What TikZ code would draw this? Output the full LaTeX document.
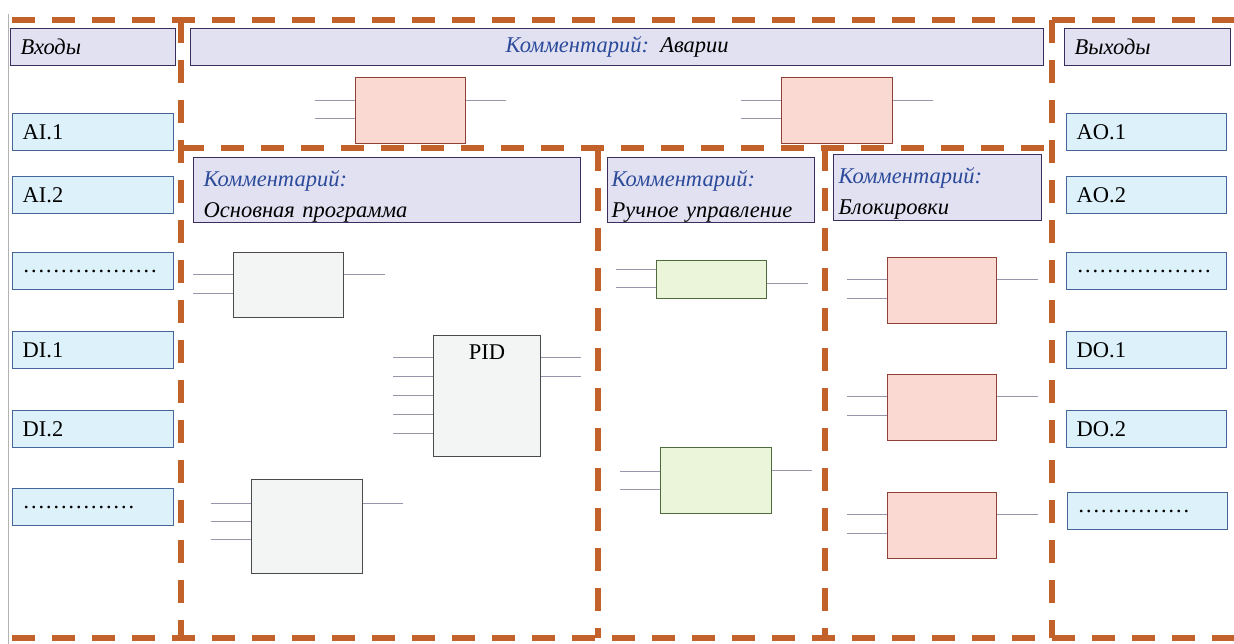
\documentclass[tikz,border=0pt]{standalone}
\usepackage{fontspec}
\setmainfont{Liberation Serif}
\begin{document}
\begin{tikzpicture}[x=1pt,y=-1pt,
  hdr/.style={draw=hdrB, fill=hdrF, line width=1.3pt, rectangle, anchor=north west, inner xsep=10pt, inner ysep=0pt, align=left, font=\fontsize{22.5}{28}\selectfont\itshape},
  iobox/.style={draw=ioB, fill=ioF, line width=1.3pt, rectangle, anchor=north west, inner xsep=10pt, inner ysep=0pt, align=left, minimum height=37pt, text width=141pt, font=\fontsize{22.5}{26}\selectfont},
  pinkb/.style={draw=pkB, fill=pkF, line width=1.2pt, rectangle, anchor=north west, inner sep=0pt},
  greenb/.style={draw=grB, fill=grF, line width=1.2pt, rectangle, anchor=north west, inner sep=0pt},
  grayb/.style={draw=gyB, fill=gyF, line width=1.2pt, rectangle, anchor=north west, inner sep=0pt},
  stub/.style={draw=stubC, line width=0.9pt},
  sep/.style={draw=sepC, line width=6pt, dash pattern=on 23pt off 17pt},
  cm/.style={color=cmC}
]
\definecolor{hdrB}{HTML}{3B2E5C}
\definecolor{hdrF}{HTML}{E1E1F2}
\definecolor{ioB}{HTML}{45659A}
\definecolor{ioF}{HTML}{DDF1FA}
\definecolor{pkB}{HTML}{8E4035}
\definecolor{pkF}{HTML}{FBD9D3}
\definecolor{grB}{HTML}{4F6B3C}
\definecolor{grF}{HTML}{EBF5D9}
\definecolor{gyB}{HTML}{4A4A4A}
\definecolor{gyF}{HTML}{F3F4F4}
\definecolor{stubC}{HTML}{9A94AA}
\definecolor{sepC}{HTML}{C2622A}
\definecolor{cmC}{HTML}{2B4A9A}
\useasboundingbox (0,0) rectangle (1234,644);
\fill[white] (0,0) rectangle (1234,644);
% left edge line
\coordinate (le1) at (8,14);
\coordinate (le2) at (8,644);
\draw[color=black!30, line width=1pt] (le1) -- (le2);
% separators
\coordinate (t0) at (12,20);
\coordinate (t1) at (1234,20);
\coordinate (b0) at (12,638);
\coordinate (b1) at (1234,638);
\coordinate (v1a) at (181,20);
\coordinate (v1b) at (181,638);
\coordinate (v4a) at (1052,20);
\coordinate (v4b) at (1052,638);
\coordinate (m0) at (181,148);
\coordinate (m1) at (1052,148);
\coordinate (v2a) at (598,148);
\coordinate (v2b) at (598,638);
\coordinate (v3a) at (825,148);
\coordinate (v3b) at (825,638);
\draw[sep] (t0) -- (t1);
\draw[sep] (b0) -- (b1);
\draw[sep] (v1a) -- (v1b);
\draw[sep] (v4a) -- (v4b);
\draw[sep] (m0) -- (m1);
\draw[sep] (v2a) -- (v2b);
\draw[sep] (v3a) -- (v3b);
% headers
\node[hdr, minimum width=165pt, minimum height=37pt, text width=145pt] (hin) at (10,28) {Входы};
\node[hdr, minimum width=853pt, minimum height=37pt, text width=833pt, align=center] (hav) at (190,28) {{\color{cmC}Комментарий:} Аварии};
\node[hdr, minimum width=166pt, minimum height=37pt, text width=146pt] (hout) at (1064,28) {Выходы};
\node[hdr, minimum width=387pt, minimum height=65pt, text width=367pt] (hmain) at (193,157) {\rule{0pt}{28pt}{\color{cmC}Комментарий:}\\[3pt]Основная программа};
\node[hdr, minimum width=207pt, minimum height=65pt, text width=199pt, inner xsep=4pt] (hman) at (607,157) {\rule{0pt}{28pt}{\color{cmC}Комментарий:}\\[3pt]Ручное управление};
\node[hdr, minimum width=208pt, minimum height=66pt, text width=198pt, inner xsep=5pt] (hblk) at (833,154) {\rule{0pt}{28pt}{\color{cmC}Комментарий:}\\[3pt]Блокировки};
% IO boxes
\node[iobox] (ai1) at (12,113) {AI.1};
\node[iobox] (ai2) at (12,176) {AI.2};
\node[iobox] (ai3) at (12,252) {………………};
\node[iobox] (di1) at (12,331) {DI.1};
\node[iobox] (di2) at (12,410) {DI.2};
\node[iobox] (di3) at (12,488) {……………};
\node[iobox, text width=140pt] (ao1) at (1066,113) {AO.1};
\node[iobox, text width=140pt] (ao2) at (1066,176) {AO.2};
\node[iobox, text width=140pt] (ao3) at (1066,252) {………………};
\node[iobox, text width=140pt] (do1) at (1066,331) {DO.1};
\node[iobox, text width=140pt] (do2) at (1066,410) {DO.2};
\node[iobox, text width=140pt] (do3) at (1067,492) {……………};
% pink alarm boxes
\node[pinkb, minimum width=110pt, minimum height=66pt] (pa1) at (355,77) {};
\node[pinkb, minimum width=111pt, minimum height=66pt] (pa2) at (781,77) {};
\draw[stub] ([yshift=-23pt]pa1.north west) -- ++(-40,0);
\draw[stub] ([yshift=-41pt]pa1.north west) -- ++(-40,0);
\draw[stub] ([yshift=-23pt]pa1.north east) -- ++(40,0);
\draw[stub] ([yshift=-23pt]pa2.north west) -- ++(-40,0);
\draw[stub] ([yshift=-41pt]pa2.north west) -- ++(-40,0);
\draw[stub] ([yshift=-23pt]pa2.north east) -- ++(40,0);
% block boxes
\node[pinkb, minimum width=109pt, minimum height=66pt] (pb1) at (887,257) {};
\node[pinkb, minimum width=109pt, minimum height=66pt] (pb2) at (887,374) {};
\node[pinkb, minimum width=109pt, minimum height=66pt] (pb3) at (887,492) {};
\foreach \n in {pb1,pb2,pb3}{
  \draw[stub] ([yshift=-22pt]\n.north west) -- ++(-40,0);
  \draw[stub] ([yshift=-41pt]\n.north west) -- ++(-40,0);
  \draw[stub] ([yshift=-22pt]\n.north east) -- ++(41,0);
}
% green manual boxes
\node[greenb, minimum width=110pt, minimum height=38pt] (g1) at (656,260) {};
\node[greenb, minimum width=111pt, minimum height=66pt] (g2) at (660,447) {};
\draw[stub] ([yshift=-9pt]g1.north west) -- ++(-40,0);
\draw[stub] ([yshift=-27pt]g1.north west) -- ++(-40,0);
\draw[stub] ([yshift=-23pt]g1.north east) -- ++(41,0);
\draw[stub] ([yshift=-24pt]g2.north west) -- ++(-40,0);
\draw[stub] ([yshift=-42pt]g2.north west) -- ++(-40,0);
\draw[stub] ([yshift=-23pt]g2.north east) -- ++(40,0);
% gray main boxes
\node[grayb, minimum width=110pt, minimum height=65pt] (m1b) at (233,252) {};
\draw[stub] ([yshift=-22pt]m1b.north west) -- ++(-40,0);
\draw[stub] ([yshift=-41pt]m1b.north west) -- ++(-40,0);
\draw[stub] ([yshift=-22pt]m1b.north east) -- ++(41,0);
\node[grayb, minimum width=107pt, minimum height=121pt] (pid) at (433,335) {};
\node[font=\fontsize{22.5}{26}\selectfont, anchor=north, inner sep=0pt] (pidt) at ([yshift=-10pt]pid.north) {PID};
\foreach \d in {22,41,60,79,98}{
  \draw[stub] ([yshift=-\d pt]pid.north west) -- ++(-40,0);
}
\draw[stub] ([yshift=-22pt]pid.north east) -- ++(40,0);
\draw[stub] ([yshift=-41pt]pid.north east) -- ++(40,0);
\node[grayb, minimum width=111pt, minimum height=94pt] (m3b) at (251,479) {};
\foreach \d in {24,42,60}{
  \draw[stub] ([yshift=-\d pt]m3b.north west) -- ++(-40,0);
}
\draw[stub] ([yshift=-24pt]m3b.north east) -- ++(40,0);
\end{tikzpicture}
\end{document}
